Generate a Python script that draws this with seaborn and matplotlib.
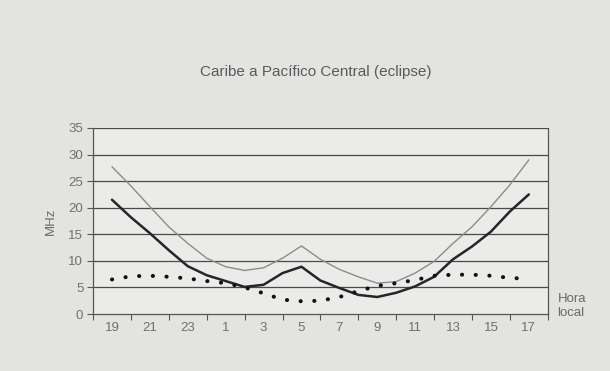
import pandas as pd
import matplotlib.pyplot as plt
import seaborn as sns

# Hours (local time), read every hour from 19 h to 17 h
horas = [19, 20, 21, 22, 23, 0, 1, 2, 3, 4, 5, 6, 7, 8, 9, 10, 11, 12, 13, 14, 15, 16, 17]
etiquetas = ['19', '21', '23', '1', '3', '5', '7', '9', '11', '13', '15', '17']

# upper curve (thin, light grey)
muf = [27.7, 24.1, 20.2, 16.4, 13.3, 10.5, 8.9, 8.2, 8.7, 10.5, 12.8, 10.3, 8.4,
       7.0, 5.8, 6.1, 7.7, 9.9, 13.3, 16.4, 20.2, 24.3, 29.0]
# middle curve (thick, dark)
fot = [21.5, 18.2, 15.2, 12.0, 9.0, 7.3, 6.2, 5.1, 5.5, 7.7, 8.9, 6.3, 4.9,
       3.6, 3.2, 4.0, 5.2, 7.0, 10.3, 12.7, 15.5, 19.3, 22.5]
# lower curve (dotted)
luf = [6.5, 7.1, 7.2, 7.0, 6.7, 6.2, 5.8, 5.0, 3.9, 2.7, 2.4, 2.5, 3.2,
       4.3, 5.3, 5.8, 6.4, 7.2, 7.4, 7.4, 7.2, 6.8, 6.6]

df = pd.DataFrame({'pos': range(len(horas)), 'muf': muf, 'fot': fot, 'luf': luf})

sns.set_style('white')
plt.rcParams['font.family'] = ['Liberation Sans', 'DejaVu Sans']

fig = plt.figure(figsize=(6.1, 3.71), dpi=100, facecolor='#e3e3e1')
ax = fig.add_axes([0.1525, 0.1536, 0.7455, 0.5014])
ax.set_facecolor('#ebebe9')

for y in range(5, 40, 5):
    ax.axhline(y, color='#4a4a4a', lw=0.9, zorder=1)

sns.lineplot(data=df, x='pos', y='muf', ax=ax, color='#8c8c8c', lw=1.0, zorder=3,
             solid_joinstyle='round')
sns.lineplot(data=df, x='pos', y='fot', ax=ax, color='#262626', lw=1.8, zorder=4,
             solid_joinstyle='round')
sns.lineplot(data=df, x='pos', y='luf', ax=ax, color='#111111', lw=2.9, zorder=5,
             linestyle=(0, (0.05, 3.35)), dash_capstyle='round')

ax.set_xlim(-1, 23)
ax.set_ylim(0, 35)
ax.set_xticks(range(0, 23, 2))
ax.set_xticklabels(etiquetas)
ax.set_xticks(range(-1, 24, 2), minor=True)
ax.set_yticks(range(0, 36, 5))
ax.tick_params(axis='x', which='major', length=0, pad=6, labelsize=9.5, labelcolor='#707070')
ax.tick_params(axis='x', which='minor', length=4, width=0.8, color='#555555', direction='out', bottom=True)
ax.tick_params(axis='y', length=4, width=0.8, color='#555555', direction='out', left=True,
               labelsize=9.5, labelcolor='#707070', pad=3)

for side in ['left', 'bottom', 'right']:
    ax.spines[side].set_color('#555555')
    ax.spines[side].set_linewidth(0.9)
ax.spines['top'].set_visible(False)

ax.set_xlabel('')
ax.set_ylabel('MHz', color='#6a6a6a', fontsize=9.5, labelpad=8)

fig.text(0.518, 0.805, 'Caribe a Pacífico Central (eclipse)', ha='center', va='center',
         fontsize=11, color='#5a5a5a')
fig.text(0.914, 0.175, 'Hora\nlocal', ha='left', va='center', fontsize=9.5,
         color='#6a6a6a', linespacing=1.2)

fig.savefig('out.png', dpi=100, facecolor=fig.get_facecolor())
